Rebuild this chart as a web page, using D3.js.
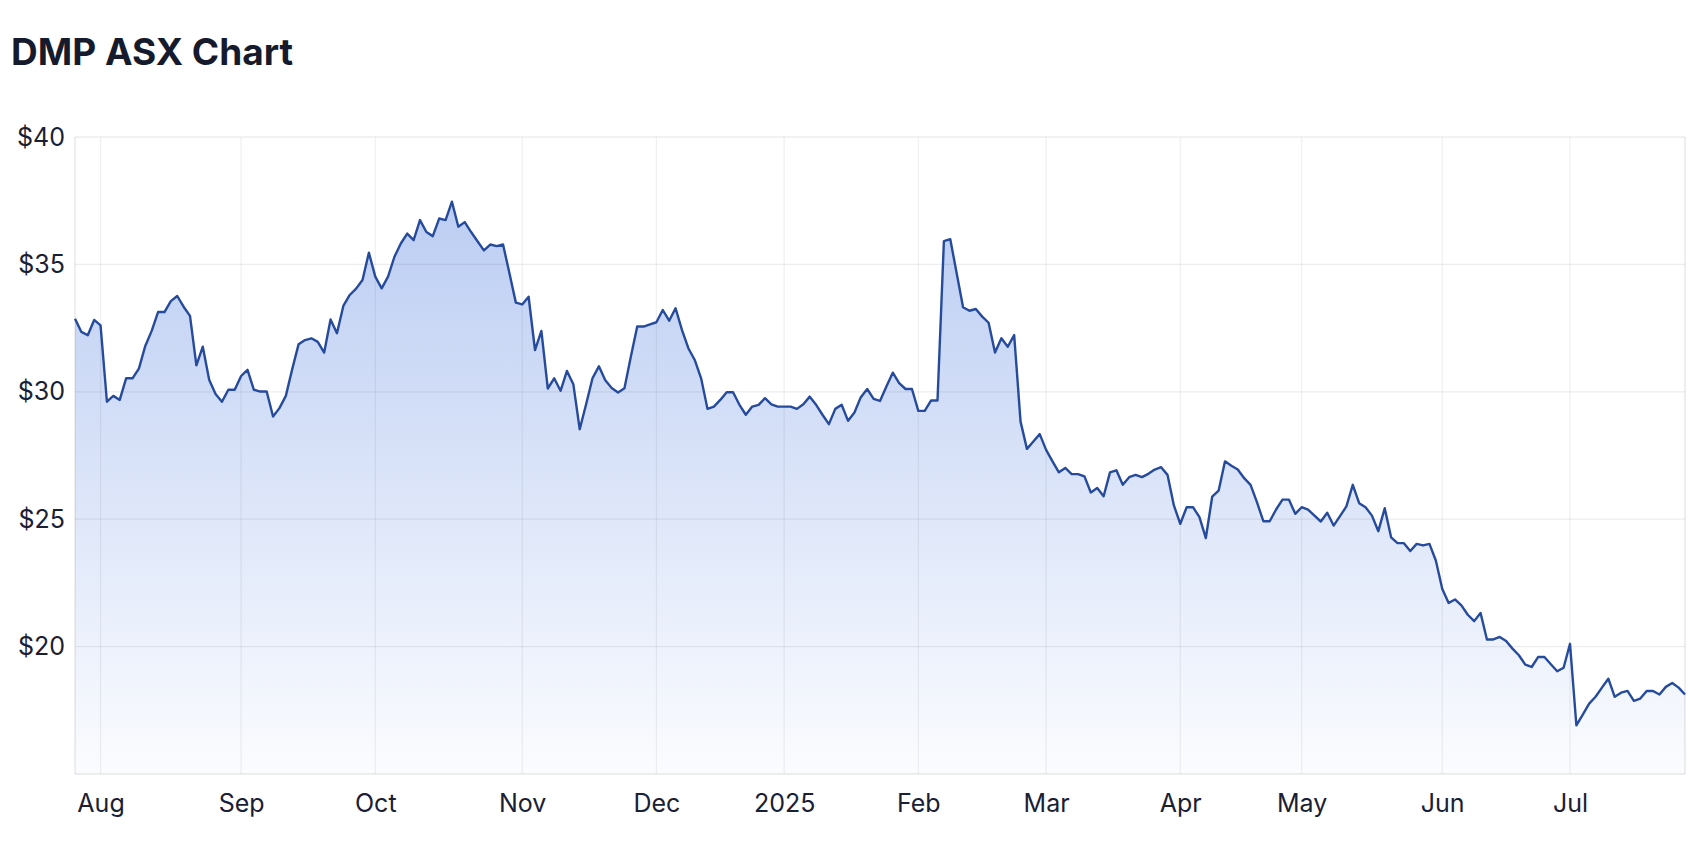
<!DOCTYPE html>
<html>
<head>
<meta charset="utf-8">
<script src="https://cdn.jsdelivr.net/npm/d3@7"></script>
<style>
  html, body { margin: 0; padding: 0; background: #fff; }
  svg { display: block; font-family: Inter, "Noto Sans", sans-serif; }
</style>
</head>
<body>
<svg class="chart" width="1698" height="848"></svg>
<script>
// closing prices, trading days only, one array per month
const jul24 = [32.87, 32.35, 32.22, 32.82]
const aug24 = [32.61, 29.61, 29.84, 29.68, 30.53, 30.53, 30.91, 31.80, 32.39, 33.13, 33.13, 33.56, 33.76, 33.34, 32.98, 31.04, 31.77, 30.47, 29.91, 29.61, 30.08, 30.08]
const sep24 = [30.62, 30.86, 30.08, 30.01, 30.01, 29.03, 29.36, 29.84, 30.89, 31.87, 32.03, 32.10, 31.96, 31.54, 32.84, 32.30, 33.37, 33.80, 34.05, 34.39, 35.46]
const oct24 = [34.52, 34.06, 34.52, 35.30, 35.82, 36.21, 35.95, 36.74, 36.27, 36.11, 36.80, 36.74, 37.46, 36.48, 36.66, 36.27, 35.91, 35.55, 35.78, 35.72, 35.78, 34.65, 33.50]
const nov24 = [33.43, 33.73, 31.64, 32.39, 30.13, 30.53, 30.04, 30.82, 30.30, 28.53, 29.51, 30.53, 31.00, 30.45, 30.15, 29.97, 30.14, 31.38, 32.56, 32.56, 32.65]
const dec24 = [32.73, 33.21, 32.79, 33.28, 32.43, 31.71, 31.25, 30.53, 29.33, 29.42, 29.68, 29.98, 29.98, 29.49, 29.10, 29.42, 29.49, 29.75, 29.51, 29.42]
const jan25 = [29.42, 29.42, 29.33, 29.51, 29.81, 29.49, 29.10, 28.73, 29.33, 29.49, 28.86, 29.19, 29.79, 30.11, 29.72, 29.64, 30.21, 30.75, 30.34, 30.11, 30.11]
const feb25 = [29.25, 29.25, 29.66, 29.66, 35.91, 35.99, 34.65, 33.32, 33.18, 33.25, 32.95, 32.71, 31.54, 32.10, 31.77, 32.23, 28.83, 27.76, 28.05, 28.34]
const mar25 = [27.72, 27.27, 26.84, 27.01, 26.77, 26.77, 26.68, 26.05, 26.22, 25.90, 26.84, 26.92, 26.35, 26.65, 26.74, 26.65, 26.78, 26.95, 27.04, 26.74, 25.54]
const apr25 = [24.82, 25.47, 25.47, 25.08, 24.26, 25.89, 26.12, 27.27, 27.10, 26.95, 26.61, 26.35, 25.67, 24.92, 24.92, 25.38, 25.77, 25.77, 25.21]
const may25 = [25.47, 25.38, 25.14, 24.91, 25.25, 24.75, 25.12, 25.50, 26.35, 25.63, 25.47, 25.14, 24.53, 25.43, 24.29, 24.06, 24.06, 23.75, 24.03, 23.97, 24.03, 23.38]
const jun25 = [22.27, 21.71, 21.85, 21.62, 21.25, 21.00, 21.32, 20.28, 20.28, 20.38, 20.22, 19.92, 19.66, 19.29, 19.20, 19.59, 19.59, 19.31, 19.03, 19.17]
const jul25 = [20.11, 16.91, 17.33, 17.76, 18.03, 18.39, 18.74, 18.03, 18.19, 18.26, 17.87, 17.96, 18.26, 18.26, 18.12, 18.42, 18.57, 18.39, 18.12]

const months = [jul24, aug24, sep24, oct24, nov24, dec24, jan25, feb25, mar25, apr25, may25, jun25, jul25]
// first month is partial, it gets no label
const monthLabels = ["", "Aug", "Sep", "Oct", "Nov", "Dec", "2025", "Feb", "Mar", "Apr", "May", "Jun", "Jul"]
const yTicks = [20, 25, 30, 35, 40]
const yDomain = [15, 40]

const prices = months.flat()

// index of the first trading day of every month
const monthStart = []
let n = 0
months.forEach(m => { monthStart.push(n); n += m.length })
const ticks = monthStart.slice(1)
const tickText = monthLabels.slice(1)

const width = 1698, height = 848
const margin = {top: 137, right: 13, bottom: 74, left: 75}

const svg = d3.select(".chart")

const x = d3.scaleLinear()
    .domain([0, prices.length - 1])
    .range([margin.left, width - margin.right])
const y = d3.scaleLinear()
    .domain(yDomain)
    .range([height - margin.bottom, margin.top])

// title
svg.append("text")
    .attr("x", 11)
    .attr("y", 65)
    .attr("font-size", "37px")
    .attr("font-weight", 700)
    .attr("fill", "#151b2c")
    .text("DMP ASX Chart")

// gradient under the line
const grad = svg.append("defs").append("linearGradient")
    .attr("id", "fillGrad")
    .attr("gradientUnits", "userSpaceOnUse")
    .attr("x1", 0).attr("x2", 0)
    .attr("y1", y(yDomain[1])).attr("y2", y(yDomain[0]))
grad.append("stop").attr("offset", "0%").attr("stop-color", "rgb(59,110,220)").attr("stop-opacity", 0.38)
grad.append("stop").attr("offset", "100%").attr("stop-color", "rgb(59,110,220)").attr("stop-opacity", 0.02)

const area = d3.area()
    .x((d, i) => x(i))
    .y0(y(yDomain[0]))
    .y1(d => y(d))
const line = d3.line()
    .x((d, i) => x(i))
    .y(d => y(d))

svg.append("path")
    .datum(prices)
    .attr("fill", "url(#fillGrad)")
    .attr("d", area)

// grid lines drawn over the fill
const grid = svg.append("g").attr("class", "grid")
grid.selectAll(".hgrid")
    .data(yTicks)
    .enter()
    .append("line")
    .attr("class", "hgrid")
    .attr("x1", margin.left).attr("x2", width - margin.right)
    .attr("y1", d => y(d)).attr("y2", d => y(d))
    .attr("stroke", "rgba(0,0,0,0.07)")
    .attr("stroke-width", 1.3)
grid.selectAll(".vgrid")
    .data(ticks)
    .enter()
    .append("line")
    .attr("class", "vgrid")
    .attr("x1", d => x(d)).attr("x2", d => x(d))
    .attr("y1", margin.top).attr("y2", height - margin.bottom)
    .attr("stroke", "rgba(0,0,0,0.06)")
    .attr("stroke-width", 1.3)

// frame: left, right and bottom edges
const frame = [
    [x(0), y(yDomain[1]), x(0), y(yDomain[0])],
    [x(prices.length - 1), y(yDomain[1]), x(prices.length - 1), y(yDomain[0])],
    [x(0), y(yDomain[0]), x(prices.length - 1), y(yDomain[0])]
]
grid.selectAll(".frame")
    .data(frame)
    .enter()
    .append("line")
    .attr("class", "frame")
    .attr("x1", d => d[0]).attr("y1", d => d[1])
    .attr("x2", d => d[2]).attr("y2", d => d[3])
    .attr("stroke", "rgba(0,0,0,0.09)")
    .attr("stroke-width", 1.5)

svg.append("path")
    .datum(prices)
    .attr("fill", "none")
    .attr("stroke", "#264b9d")
    .attr("stroke-width", 2.4)
    .attr("stroke-linejoin", "round")
    .attr("d", line)

// axes
const xAxis = d3.axisBottom(x)
    .tickValues(ticks)
    .tickFormat((d, i) => tickText[i])
    .tickSize(0)
    .tickPadding(20)
const yAxis = d3.axisLeft(y)
    .tickValues(yTicks)
    .tickFormat(d => "$" + d)
    .tickSize(0)
    .tickPadding(10)

const gx = svg.append("g")
    .attr("transform", `translate(0,${height - margin.bottom})`)
    .call(xAxis)
const gy = svg.append("g")
    .attr("transform", `translate(${margin.left},0)`)
    .call(yAxis)

gx.select(".domain").remove()
gy.select(".domain").remove()
svg.selectAll(".tick text")
    .attr("font-family", "Inter, 'Noto Sans', sans-serif")
    .attr("font-size", "25px")
    .attr("fill", "#1a2033")
</script>
</body>
</html>
